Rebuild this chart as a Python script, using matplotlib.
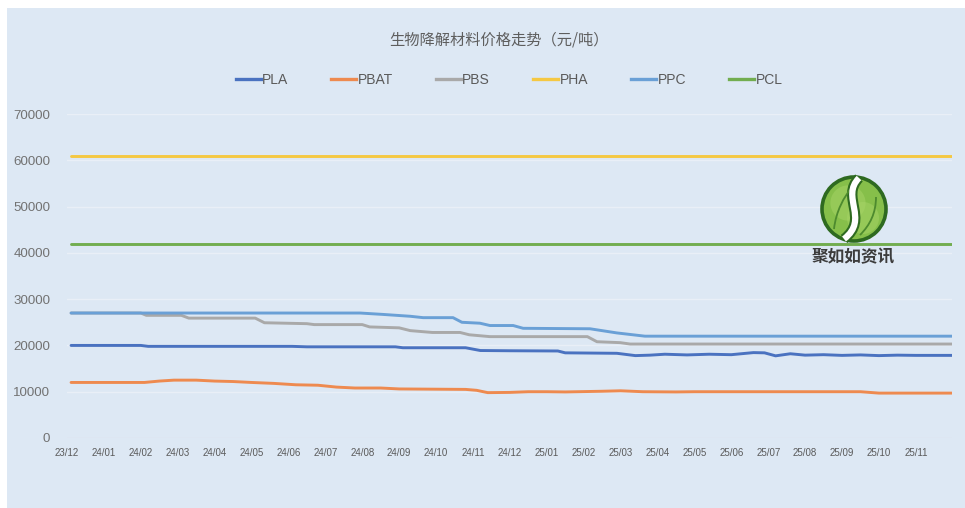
import matplotlib
matplotlib.use('Agg')
import matplotlib.pyplot as plt
from matplotlib.patches import Rectangle, Circle, PathPatch
from matplotlib.path import Path
from matplotlib.lines import Line2D

# ---------------- data ----------------
title = '生物降解材料价格走势（元/吨）'
month_labels = ['23/12', '24/01', '24/02', '24/03', '24/04', '24/05', '24/06', '24/07',
                '24/08', '24/09', '24/10', '24/11', '24/12', '25/01', '25/02', '25/03',
                '25/04', '25/05', '25/06', '25/07', '25/08', '25/09', '25/10', '25/11']
series_names = ['PLA', 'PBAT', 'PBS', 'PHA', 'PPC', 'PCL']

# x = months elapsed since the 23/12 label
pla_x = [0.11, 2.0, 2.2, 6.1, 6.5, 8.9, 9.1, 10.8, 11.2, 12.0, 13.3, 13.5, 14.9, 15.4, 15.8,
         16.2, 16.8, 17.4, 18.0, 18.6, 18.9, 19.2, 19.6, 20.0, 20.5, 21.0, 21.5, 22.0, 22.5,
         23.0, 23.98]
pla_y = [20000, 20000, 19800, 19800, 19700, 19700, 19500, 19500, 18900, 18850, 18800, 18400,
         18300, 17800, 17900, 18100, 17950, 18100, 18000, 18450, 18400, 17750, 18200, 17900,
         18000, 17850, 17950, 17800, 17900, 17850, 17850]

pbat_x = [0.11, 2.1, 2.5, 2.9, 3.5, 4.0, 4.5, 5.0, 5.6, 6.2, 6.8, 7.3, 7.8, 8.5, 9.0, 10.8,
          11.1, 11.4, 12.0, 12.5, 13.0, 13.5, 14.5, 15.0, 15.6, 16.5, 17.0, 21.5, 22.0, 23.98]
pbat_y = [12000, 12000, 12300, 12500, 12500, 12300, 12200, 12000, 11800, 11500, 11400, 11000,
          10800, 10800, 10600, 10500, 10300, 9800, 9850, 10000, 10000, 9950, 10100, 10200,
          10000, 9950, 10000, 10000, 9700, 9700]

pbs_x = [0.11, 2.0, 2.15, 3.1, 3.3, 5.1, 5.35, 6.5, 6.7, 8.0, 8.2, 9.0, 9.3, 9.9, 10.65,
         10.9, 11.46, 14.1, 14.36, 14.99, 15.26, 23.98]
pbs_y = [27000, 27000, 26500, 26500, 25900, 25900, 24900, 24700, 24500, 24500, 24000, 23800,
         23200, 22800, 22800, 22300, 21900, 21900, 20800, 20600, 20300, 20300]

pha_x = [0.11, 23.98]
pha_y = [61000, 61000]

ppc_x = [0.11, 7.94, 8.56, 9.3, 9.65, 10.46, 10.7, 11.19, 11.46, 12.09, 12.36, 14.17, 14.9,
         15.66, 23.98]
ppc_y = [27000, 27000, 26700, 26300, 26000, 26000, 25000, 24800, 24300, 24300, 23700, 23600,
         22700, 22000, 22000]

pcl_x = [0.11, 23.98]
pcl_y = [42000, 42000]

y_ticks = [0, 10000, 20000, 30000, 40000, 50000, 60000, 70000]
logo_text = '聚如如资讯'

colors = {'PLA': '#4a72c0', 'PBAT': '#ee8a4f', 'PBS': '#a9a9a9',
          'PHA': '#f5c842', 'PPC': '#6aa0d6', 'PCL': '#72ad4f'}

# ---------------- figure ----------------
W, H = 965, 508
fig = plt.figure(figsize=(W / 100, H / 100), dpi=100, facecolor='white')

# panel background (pixel coords)
bg = fig.add_axes([0, 0, 1, 1], zorder=-5)
bg.set_xlim(0, W)
bg.set_ylim(H, 0)
bg.axis('off')
bg.add_patch(Rectangle((7, 8), W - 7, H - 8, facecolor='#dde8f4', edgecolor='none'))

# main axes
left_px, right_px, top_px, bot_px = 67, 952, 114, 438
ax = fig.add_axes([left_px / W, 1 - bot_px / H, (right_px - left_px) / W, (bot_px - top_px) / H],
                  zorder=1)
ax.set_facecolor('none')

data = {'PLA': (pla_x, pla_y), 'PBAT': (pbat_x, pbat_y), 'PBS': (pbs_x, pbs_y),
        'PHA': (pha_x, pha_y), 'PPC': (ppc_x, ppc_y), 'PCL': (pcl_x, pcl_y)}
draw_order = ['PHA', 'PCL', 'PBAT', 'PLA', 'PBS', 'PPC']
for name in draw_order:
    xs, ys = data[name]
    ax.plot(xs, ys, color=colors[name], lw=2.1, solid_capstyle='round', zorder=3)

ax.set_xlim(0, 23.98)
ax.set_ylim(0, 70000)
ax.set_yticks(y_ticks)
ax.set_yticklabels([str(v) for v in y_ticks], family=['Liberation Sans', 'DejaVu Sans'],
                   fontsize=9.6, color='#727272')
ax.set_xticks(range(len(month_labels)))
ax.set_xticklabels(month_labels, family=['Liberation Sans Narrow', 'Liberation Sans', 'DejaVu Sans'],
                   fontsize=7.0, color='#5a5a5a')
ax.tick_params(axis='y', length=0, pad=12)
ax.tick_params(axis='x', length=0, pad=7)
for s in ax.spines.values():
    s.set_visible(False)
ax.grid(axis='y', color='#e9eff7', lw=1.0, zorder=0)
ax.grid(axis='x', visible=False)
ax.axhline(0, color='#d3dbe5', lw=1.0, zorder=1)

# title
fig.text(499 / W, 1 - 40 / H, title, ha='center', va='center', fontsize=11,
         family=['Noto Sans CJK SC', 'DejaVu Sans'], color='#5e5e5e')

# legend
handles = [Line2D([0], [0], color=colors[n], lw=2.4) for n in series_names]
fig.legend(handles, series_names, loc='center', bbox_to_anchor=(509 / W, 1 - 80 / H),
           ncol=6, frameon=False, handlelength=1.8, handletextpad=0.1, columnspacing=3.1,
           prop={'family': ['Liberation Sans Narrow', 'Liberation Sans', 'DejaVu Sans'], 'size': 10},
           labelcolor='#5a5a5a')

# logo (pixel coords overlay)
ov = fig.add_axes([0, 0, 1, 1], zorder=4)
ov.set_xlim(0, W)
ov.set_ylim(H, 0)
ov.axis('off')
ov.patch.set_alpha(0)
cx, cy, r = 854, 209, 32
ov.add_patch(Circle((cx, cy), r, facecolor='#86bf4a', edgecolor='#2e6a20', lw=2.6, zorder=5))
ov.add_patch(Circle((cx - 6, cy - 6), r * 0.55, facecolor='#a6d467', edgecolor='none', alpha=0.5, zorder=5))
ov.add_patch(Circle((cx + 9, cy + 9), r * 0.5, facecolor='#a6d467', edgecolor='none', alpha=0.5, zorder=5))
s_path = Path([(cx + 5, cy - 31), (cx - 14, cy - 12), (cx + 16, cy + 10), (cx - 10, cy + 30)],
              [Path.MOVETO, Path.CURVE4, Path.CURVE4, Path.CURVE4])
ov.add_patch(PathPatch(s_path, facecolor='none', edgecolor='#2e6a20', lw=7.5, zorder=6))
ov.add_patch(PathPatch(s_path, facecolor='none', edgecolor='white', lw=4.5, zorder=7))
v1 = Path([(cx - 20, cy + 20), (cx - 18, cy + 2), (cx - 10, cy - 12), (cx - 2, cy - 22)],
          [Path.MOVETO, Path.CURVE4, Path.CURVE4, Path.CURVE4])
v2 = Path([(cx + 6, cy + 26), (cx + 16, cy + 16), (cx + 22, cy + 4), (cx + 22, cy - 12)],
          [Path.MOVETO, Path.CURVE4, Path.CURVE4, Path.CURVE4])
for v in (v1, v2):
    ov.add_patch(PathPatch(v, facecolor='none', edgecolor='#4d8a2e', lw=1.3, zorder=6))
ov.text(853, 257, logo_text, ha='center', va='center', fontsize=12, fontweight='bold',
        family=['Noto Sans CJK SC', 'DejaVu Sans'], color='#3c3c3c', zorder=8)

fig.savefig('out.png', dpi=100, facecolor='white')
